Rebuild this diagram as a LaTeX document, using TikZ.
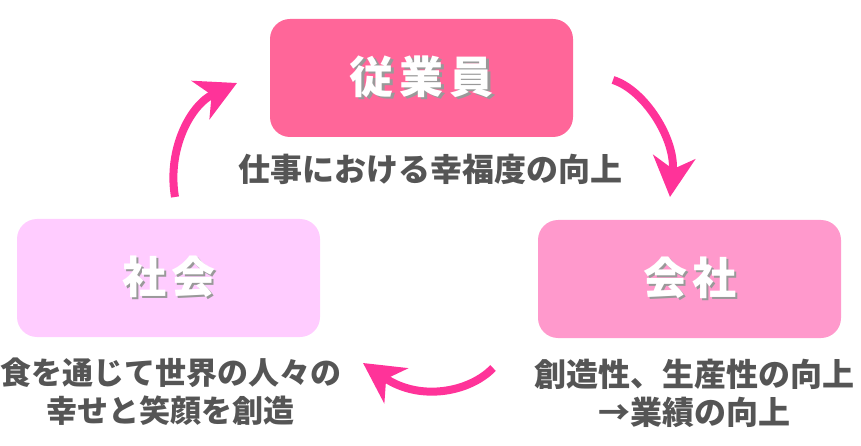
\documentclass[tikz,border=0pt]{standalone}
\usepackage{fontspec}
\setmainfont{Noto Sans CJK JP}[BoldFont={Noto Sans CJK JP Black}]
\usetikzlibrary{arrows.meta,positioning}
\definecolor{emppink}{HTML}{FF6699}
\definecolor{compink}{HTML}{FF99CC}
\definecolor{socpink}{HTML}{FFCCFF}
\definecolor{arrowpink}{HTML}{FF3399}
\definecolor{notegray}{HTML}{555555}
\newcommand{\embossed}[1]{\makebox[0pt][l]{\hspace{2.5pt}\raisebox{-2.5pt}{\textcolor{black!40}{#1}}}#1}
\tikzset{
  box/.style = {rectangle, rounded corners=20pt, minimum width=303pt,
    minimum height=118pt, inner sep=0pt},
  title/.style = {text=white, font=\fontsize{44}{48}\selectfont\bfseries},
  note/.style = {text=notegray, align=center,
    font=\fontsize{32}{38}\selectfont\bfseries},
  cycle/.style = {draw=arrowpink, line width=8pt,
    -{Stealth[length=40pt,width=42pt,inset=12pt]}}
}

\begin{document}
\begin{tikzpicture}[x=1pt, y=-1pt]
    \useasboundingbox (0,0) rectangle (861,446);

    % three boxes
    \node[box, fill=emppink] (emp) at (421.5,78) {};
    \node[title] at (emp) {\embossed{従}\hspace{6pt}\embossed{業}\hspace{6pt}\embossed{員}};
    \node[box, fill=socpink] (soc) at (168.5,278) {};
    \node[title] at (soc) {\embossed{社}\hspace{5pt}\embossed{会}};
    \node[box, fill=compink] (com) at (689.5,279) {};
    \node[title] at (com) {\embossed{会}\hspace{5pt}\embossed{社}};

    % notes under the boxes
    \node[note, below=13pt of emp, xshift=9pt] (empnote) {仕事における幸福度の向上};
    \node[note, below=17pt of soc, xshift=2pt, font=\fontsize{31}{38}\selectfont\bfseries]
      (socnote) {食を通じて世界の人々の\\幸せと笑顔を創造};
    \node[note, below=17pt of com, xshift=5pt] (comnote) {創造性、生産性の向上\\→業績の向上};

    % cycle arrows
    \coordinate (a1) at (613,80);
    \coordinate (b1) at (670,197);
    \coordinate (a2) at (493,368);
    \coordinate (b2) at (363,363);
    \coordinate (a3) at (175,197);
    \coordinate (b3) at (237,83);
    \draw[cycle] (a1) .. controls (645,90) and (676,140) .. (b1);
    \draw[cycle] (a2) .. controls (470,392) and (420,402) .. (b2);
    \draw[cycle] (a3) .. controls (167,150) and (190,105) .. (b3);
\end{tikzpicture}
\end{document}
